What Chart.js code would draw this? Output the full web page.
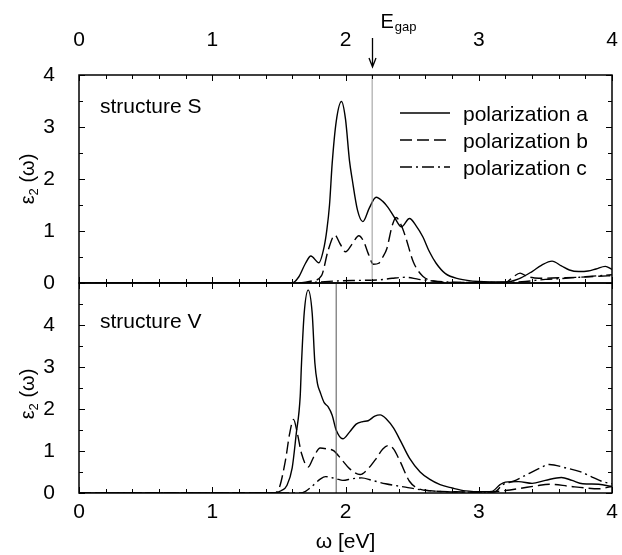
<!DOCTYPE html>
<html>
<head>
<meta charset="utf-8">
<script src="https://cdn.jsdelivr.net/npm/chart.js@4.4.0/dist/chart.umd.min.js"></script>
<style>
  body { margin: 0; background: #fff; }
  #wrap { position: relative; width: 622px; height: 555px; }
  canvas { position: absolute; left: 0; }
  #topChart { top: 0; }
  #botChart { top: 282px; }
</style>
</head>
<body>
<div id="wrap">
  <canvas id="topChart" width="622" height="300"></canvas>
  <canvas id="botChart" width="622" height="273"></canvas>
</div>
<script>
// structure S
const sOmegaA = [0, 1.6, 1.65, 1.7, 1.74, 1.8, 1.84, 1.86, 1.88, 1.9, 1.93, 1.97, 2.0, 2.03, 2.05, 2.09, 2.13, 2.18, 2.23, 2.28, 2.32, 2.37, 2.42, 2.48, 2.53, 2.58, 2.63, 2.68, 2.75, 2.85, 3.0, 3.2, 3.3, 3.4, 3.47, 3.55, 3.62, 3.68, 3.75, 3.82, 3.88, 3.95, 4.0];
const sEpsA   = [0, 0, 0.12, 0.38, 0.52, 0.39, 0.7, 1.02, 1.5, 2.3, 3.1, 3.49, 3.15, 2.35, 2.0, 1.4, 1.18, 1.45, 1.65, 1.57, 1.45, 1.25, 1.08, 1.24, 1.1, 0.89, 0.6, 0.38, 0.18, 0.08, 0.03, 0.02, 0.08, 0.22, 0.34, 0.42, 0.33, 0.25, 0.22, 0.23, 0.27, 0.32, 0.26];

const sOmegaB = [0, 1.65, 1.75, 1.82, 1.87, 1.92, 1.96, 2.0, 2.05, 2.1, 2.14, 2.17, 2.21, 2.25, 2.28, 2.31, 2.35, 2.38, 2.42, 2.45, 2.51, 2.58, 2.66, 2.8, 3.2, 3.26, 3.31, 3.36, 3.45, 3.6, 3.75, 3.9, 4.0];
const sEpsB   = [0, 0, 0.04, 0.14, 0.63, 0.92, 0.75, 0.6, 0.75, 0.91, 0.78, 0.57, 0.36, 0.38, 0.5, 0.66, 1.1, 1.26, 1.1, 0.89, 0.4, 0.13, 0.04, 0.01, 0.01, 0.12, 0.19, 0.13, 0.09, 0.1, 0.11, 0.13, 0.14];

const sOmegaC = [0, 1.7, 1.8, 1.95, 2.1, 2.25, 2.35, 2.45, 2.55, 2.7, 2.9, 3.2, 3.35, 3.5, 3.65, 3.8, 3.95, 4.0];
const sEpsC   = [0, 0, 0.02, 0.04, 0.05, 0.06, 0.09, 0.11, 0.07, 0.03, 0.01, 0.01, 0.03, 0.07, 0.09, 0.12, 0.15, 0.16];

// structure V
const vOmegaA = [0, 1.46, 1.52, 1.56, 1.6, 1.63, 1.66, 1.67, 1.69, 1.72, 1.75, 1.77, 1.79, 1.81, 1.84, 1.87, 1.9, 1.93, 1.98, 2.03, 2.08, 2.13, 2.17, 2.22, 2.26, 2.31, 2.36, 2.41, 2.48, 2.56, 2.63, 2.71, 2.8, 2.9, 3.05, 3.1, 3.16, 3.2, 3.3, 3.4, 3.5, 3.62, 3.7, 3.78, 3.9, 4.0];
const vEpsA   = [0, 0, 0.06, 0.18, 0.6, 1.4, 2.3, 3.1, 4.28, 4.83, 4.28, 3.1, 2.6, 2.4, 2.15, 2.05, 1.85, 1.5, 1.29, 1.45, 1.64, 1.7, 1.72, 1.83, 1.86, 1.75, 1.55, 1.26, 0.83, 0.5, 0.33, 0.2, 0.12, 0.05, 0.03, 0.04, 0.2, 0.26, 0.27, 0.23, 0.3, 0.37, 0.3, 0.22, 0.21, 0.15];

const vOmegaB = [0, 1.46, 1.5, 1.55, 1.58, 1.61, 1.64, 1.67, 1.72, 1.76, 1.81, 1.86, 1.91, 1.97, 2.03, 2.11, 2.17, 2.23, 2.28, 2.32, 2.36, 2.41, 2.48, 2.55, 2.65, 2.8, 3.05, 3.2, 3.31, 3.43, 3.53, 3.68, 3.8, 3.9, 4.0];
const vEpsB   = [0, 0, 0.1, 0.79, 1.4, 1.75, 1.4, 0.94, 0.62, 0.85, 1.07, 1.05, 1.01, 0.8, 0.58, 0.44, 0.58, 0.82, 1.05, 1.13, 1.05, 0.75, 0.28, 0.1, 0.05, 0.03, 0.02, 0.06, 0.11, 0.17, 0.21, 0.16, 0.12, 0.1, 0.16];

const vOmegaC = [0, 1.66, 1.7, 1.76, 1.81, 1.85, 1.93, 1.98, 2.05, 2.12, 2.2, 2.3, 2.45, 2.58, 2.75, 3.0, 3.12, 3.18, 3.26, 3.35, 3.45, 3.53, 3.65, 3.76, 3.85, 3.93, 4.0];
const vEpsC   = [0, 0, 0.04, 0.19, 0.33, 0.39, 0.34, 0.3, 0.34, 0.36, 0.3, 0.22, 0.14, 0.07, 0.03, 0.02, 0.03, 0.2, 0.28, 0.42, 0.58, 0.68, 0.6, 0.51, 0.38, 0.27, 0.22];

const xTicks = [0, 1, 2, 3, 4];
const sYTicks = [0, 1, 2, 3, 4];
const vYTicks = [0, 1, 2, 3, 4];
const egapS = 2.2;
const egapV = 1.93;
const seriesNames = ["polarization a", "polarization b", "polarization c"];

const FONT = '"Liberation Sans", Arial, sans-serif';
Chart.defaults.font.family = FONT;
Chart.defaults.color = "#000";

const dashB = [12, 5];
const dashC = [12, 4, 2, 4];

function pts(xs, ys) {
  return xs.map((x, i) => ({ x: x, y: ys[i] }));
}

function curve(xs, ys, dash) {
  return {
    data: pts(xs, ys),
    borderColor: "#000",
    borderWidth: 1.4,
    borderDash: dash,
    pointRadius: 0,
    cubicInterpolationMode: "monotone",
    fill: false,
  };
}

function egapLine(x, yMax, color) {
  return {
    data: [{ x: x, y: 0 }, { x: x, y: yMax }],
    borderColor: color,
    borderWidth: 1,
    pointRadius: 0,
    tension: 0,
  };
}

// frame + inward ticks on all four sides
const frameTicks = {
  id: "frameTicks",
  afterDatasetsDraw(chart) {
    const { ctx, chartArea: a, scales } = chart;
    const x = scales.x, y = scales.y;
    ctx.save();
    ctx.strokeStyle = "#000";
    ctx.lineWidth = 1;
    ctx.beginPath();
    for (let i = 0; i <= 20; i++) {
      const px = Math.round(x.getPixelForValue(i * 0.2)) + 0.5;
      const len = i % 5 === 0 ? 6 : 4;
      ctx.moveTo(px, a.top); ctx.lineTo(px, a.top + len);
      ctx.moveTo(px, a.bottom); ctx.lineTo(px, a.bottom - len);
    }
    const n = Math.round(y.max * 2);
    for (let i = 0; i <= n; i++) {
      const py = Math.round(y.getPixelForValue(i * 0.5)) + 0.5;
      const len = i % 2 === 0 ? 6 : 4;
      ctx.moveTo(a.left, py); ctx.lineTo(a.left + len, py);
      ctx.moveTo(a.right, py); ctx.lineTo(a.right - len, py);
    }
    ctx.stroke();
    ctx.lineWidth = 1.5;
    ctx.strokeRect(a.left, a.top, a.right - a.left, a.bottom - a.top);
    ctx.restore();
  },
};

// rotated epsilon_2(omega) axis title
function drawYTitle(ctx, cx, cy) {
  ctx.save();
  ctx.translate(cx, cy);
  ctx.rotate(-Math.PI / 2);
  ctx.fillStyle = "#000";
  ctx.textBaseline = "middle";
  ctx.font = "20px " + FONT;
  const w1 = ctx.measureText("ε").width;
  ctx.font = "13px " + FONT;
  const w2 = ctx.measureText("2").width;
  ctx.font = "20px " + FONT;
  const w3 = ctx.measureText(" (ω)").width;
  let sx = -(w1 + w2 + w3) / 2;
  ctx.textAlign = "left";
  ctx.fillText("ε", sx, 0);
  ctx.font = "13px " + FONT;
  ctx.fillText("2", sx + w1, 6);
  ctx.font = "20px " + FONT;
  ctx.fillText(" (ω)", sx + w1 + w2, 0);
  ctx.restore();
}

const topDecor = {
  id: "topDecor",
  afterDraw(chart) {
    const { ctx, chartArea: a, scales } = chart;
    ctx.save();
    ctx.fillStyle = "#000";
    ctx.strokeStyle = "#000";
    ctx.font = "21px " + FONT;
    ctx.textAlign = "left";
    ctx.textBaseline = "alphabetic";
    ctx.fillText("structure S", 100, 113);

    // legend
    const dashes = [[], dashB, dashC];
    const rows = [113, 140, 167];
    rows.forEach((ry, i) => {
      ctx.beginPath();
      ctx.lineWidth = 1.5;
      ctx.setLineDash(dashes[i]);
      ctx.moveTo(400, ry); ctx.lineTo(450, ry);
      ctx.stroke();
      ctx.setLineDash([]);
      ctx.fillText(seriesNames[i], 463, ry + 8);
    });

    // E_gap arrow + label
    const gx = Math.round(scales.x.getPixelForValue(egapS)) + 0.5;
    ctx.lineWidth = 1.3;
    ctx.beginPath();
    ctx.moveTo(gx, 38); ctx.lineTo(gx, 67);
    ctx.moveTo(gx - 3.5, 58); ctx.lineTo(gx, 67); ctx.lineTo(gx + 3.5, 58);
    ctx.stroke();
    ctx.font = "20px " + FONT;
    ctx.fillText("E", gx + 8, 28);
    const ew = ctx.measureText("E").width;
    ctx.font = "13px " + FONT;
    ctx.fillText("gap", gx + 8 + ew + 1, 31);

    drawYTitle(ctx, 28, (a.top + a.bottom) / 2);
    ctx.restore();
  },
};

const botDecor = {
  id: "botDecor",
  afterDraw(chart) {
    const { ctx, chartArea: a } = chart;
    ctx.save();
    ctx.fillStyle = "#000";
    ctx.font = "21px " + FONT;
    ctx.textAlign = "left";
    ctx.fillText("structure V", 100, 46);
    ctx.textAlign = "center";
    ctx.fillText("ω [eV]", (a.left + a.right) / 2, 266);
    drawYTitle(ctx, 28, (a.top + a.bottom) / 2 + 6);
    ctx.restore();
  },
};

// label offsets come from invisible tick marks so that they do not
// eat into the chart area
function axes(xPos, xHeight, xPad, yMax, yTicks) {
  return {
    x: {
      type: "linear",
      position: xPos,
      min: 0,
      max: 4,
      afterBuildTicks: (s) => { s.ticks = xTicks.map((v) => ({ value: v })); },
      afterFit: (s) => { s.height = xHeight; },
      ticks: { font: { size: 21 }, padding: 0, maxRotation: 0 },
      grid: { display: true, drawOnChartArea: false, drawTicks: true, tickLength: xPad, tickColor: "rgba(0,0,0,0)" },
      border: { display: false },
    },
    y: {
      type: "linear",
      min: 0,
      max: yMax,
      afterBuildTicks: (s) => { s.ticks = yTicks.map((v) => ({ value: v })); },
      afterFit: (s) => { s.width = 79; },
      ticks: { font: { size: 21, lineHeight: 0.05 }, padding: 0 },
      grid: { display: true, drawOnChartArea: false, drawTicks: true, tickLength: 24, tickColor: "rgba(0,0,0,0)" },
      border: { display: false },
    },
  };
}

new Chart(document.getElementById("topChart"), {
  type: "line",
  data: {
    datasets: [
      egapLine(egapS, 4, "#999"),
      curve(sOmegaA, sEpsA, []),
      curve(sOmegaB, sEpsB, dashB),
      curve(sOmegaC, sEpsC, dashC),
    ],
  },
  options: {
    responsive: false,
    animation: false,
    devicePixelRatio: 1,
    layout: { padding: { left: 0, right: 10, top: 0, bottom: 17 } },
    plugins: { legend: { display: false }, tooltip: { enabled: false } },
    scales: axes("top", 75, 22, 4, sYTicks),
  },
  plugins: [frameTicks, topDecor],
});

new Chart(document.getElementById("botChart"), {
  type: "line",
  data: {
    datasets: [
      egapLine(egapV, 5, "#555"),
      curve(vOmegaA, vEpsA, []),
      curve(vOmegaB, vEpsB, dashB),
      curve(vOmegaC, vEpsC, dashC),
    ],
  },
  options: {
    responsive: false,
    animation: false,
    devicePixelRatio: 1,
    layout: { padding: { left: 0, right: 10, top: 1, bottom: 0 } },
    plugins: { legend: { display: false }, tooltip: { enabled: false } },
    scales: axes("bottom", 62, 7, 5, vYTicks),
  },
  plugins: [frameTicks, botDecor],
});
</script>
</body>
</html>
